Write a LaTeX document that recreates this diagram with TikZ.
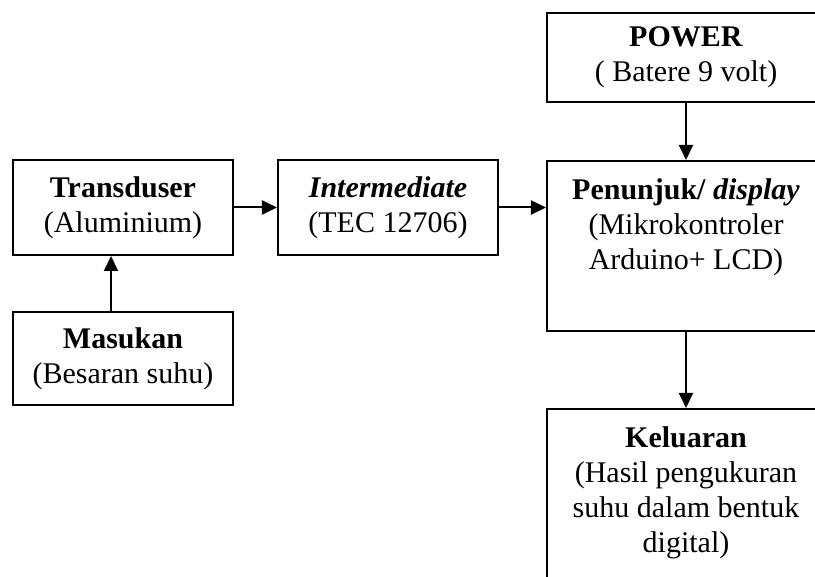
\documentclass[tikz,border=0pt]{standalone}
\usepackage{fontspec}
\setmainfont{Liberation Serif}
\usetikzlibrary{arrows.meta}
\tikzset{
  blok/.style={draw, line width=0.8pt, align=center, inner sep=0pt,
    font=\fontsize{12}{14}\selectfont},
  panah/.style={-{Triangle[length=6pt,width=5.6pt]}, line width=0.8pt}
}
\newcommand{\isiatas}[3]{\parbox[c][#1][t]{#2}{\vspace*{7pt}\centering #3}}

\begin{document}
\begin{tikzpicture}[x=0.4pt,y=-0.4pt]
      \useasboundingbox (0,0) rectangle (815,577);
      \node[blok, minimum width=88pt, minimum height=38pt] (trans) at (123,207.5)
        {\textbf{Transduser}\\(Aluminium)};
      \node[blok, minimum width=88pt, minimum height=38pt] (inter) at (388,207.5)
        {\textbf{\textit{Intermediate}}\\(TEC 12706)};
      \node[blok, minimum width=88pt, minimum height=37.2pt] (masuk) at (123,358.5)
        {\textbf{Masukan}\\(Besaran suhu)};
      \node[blok, minimum width=111.2pt, minimum height=35.6pt] (power) at (686,57.5)
        {\textbf{POWER}\\( Batere 9 volt)};
      \node[blok, anchor=north] (disp) at (686,160)
        {\isiatas{68pt}{111.2pt}{\textbf{Penunjuk/ \textit{display}}\\(Mikrokontroler\\Arduino+ LCD)}};
      \node[blok, anchor=north] (kelu) at (686,408)
        {\isiatas{80pt}{111.2pt}{\textbf{Keluaran}\\(Hasil pengukuran\\suhu dalam bentuk\\digital)}};
      \begin{scope}[panah]
        \draw (trans.east) to (inter.west);
        \draw (inter.east) to (inter.east -| disp.west);
        \draw (power.south) to (disp.north);
        \draw (disp.south) to (kelu.north);
        \draw ([xshift=-4.8pt]masuk.north) to ([xshift=-4.8pt]trans.south);
      \end{scope}
    \end{tikzpicture}
\end{document}
